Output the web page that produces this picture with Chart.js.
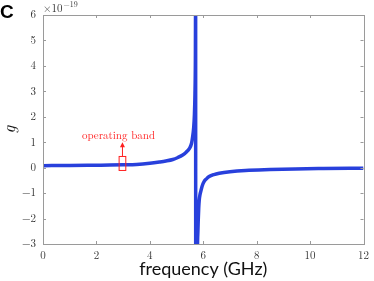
<!DOCTYPE html>
<html><head><meta charset="utf-8">
<script src="https://cdn.jsdelivr.net/npm/chart.js@4"></script>
<style>html,body{margin:0;padding:0;background:#fff}#wrap{width:374px;height:281px;position:relative}</style>
</head><body><div id="wrap"><canvas id="c" width="374" height="281"></canvas></div>
<script>
const freq = [0, 1, 2, 2.5, 3, 3.5, 4, 4.36, 4.6, 4.86, 5.05, 5.23, 5.35, 5.48, 5.56, 5.6, 5.64, 5.67, 5.69, 5.705, 5.715, 5.72,
  5.78, 5.80, 5.83, 5.85, 5.88, 5.91, 5.96, 6.03, 6.12, 6.22, 6.4, 6.6, 7, 7.58, 8.5, 9.44, 10.5, 12];
const gVals = [0.08, 0.085, 0.095, 0.10, 0.11, 0.125, 0.17, 0.22, 0.26, 0.32, 0.4, 0.5, 0.6, 0.75, 0.95, 1.2, 1.55, 2.1, 2.9, 4.2, 7, -20,
  -3.6, -2.5, -1.6, -1.27, -1.05, -0.92, -0.72, -0.55, -0.44, -0.35, -0.27, -0.22, -0.16, -0.11, -0.075, -0.05, -0.035, -0.02];
const xTicks = [0, 2, 4, 6, 8, 10, 12];
const yTicks = [-3, -2, -1, 0, 1, 2, 3, 4, 5, 6];
const bandBox = {x0: 2.85, x1: 3.10, y0: -0.11, y1: 0.44, arrowTop: 1.0};

const serif = '"Latin Modern Roman","Liberation Serif","DejaVu Serif",serif';
const deco = {
  id: 'deco',
  afterDraw(chart) {
    const ctx = chart.ctx, a = chart.chartArea, xs = chart.scales.x, ys = chart.scales.y;
    ctx.save();
    ctx.strokeStyle = '#9a9a9a'; ctx.lineWidth = 1;
    ctx.strokeRect(Math.round(a.left)+0.5, Math.round(a.top)+0.5, Math.round(a.right-a.left), Math.round(a.bottom-a.top));
    ctx.beginPath();
    xTicks.forEach(v => { const px = Math.round(xs.getPixelForValue(v))+0.5;
      ctx.moveTo(px, a.bottom); ctx.lineTo(px, a.bottom-3);
      ctx.moveTo(px, a.top); ctx.lineTo(px, a.top+3); });
    yTicks.forEach(v => { const py = Math.round(ys.getPixelForValue(v))+0.5;
      ctx.moveTo(a.left, py); ctx.lineTo(a.left+3, py);
      ctx.moveTo(a.right, py); ctx.lineTo(a.right-3, py); });
    ctx.stroke();
    // annotation
    const rx0 = xs.getPixelForValue(bandBox.x0), rx1 = xs.getPixelForValue(bandBox.x1);
    const ry0 = ys.getPixelForValue(bandBox.y1), ry1 = ys.getPixelForValue(bandBox.y0);
    ctx.strokeStyle = '#ff2020'; ctx.lineWidth = 1;
    ctx.strokeRect(rx0, ry0, rx1-rx0, ry1-ry0);
    const ax = (rx0+rx1)/2, atop = ys.getPixelForValue(bandBox.arrowTop);
    ctx.beginPath(); ctx.moveTo(ax, ry0); ctx.lineTo(ax, atop+3); ctx.stroke();
    ctx.fillStyle = '#ff2020';
    ctx.beginPath(); ctx.moveTo(ax, atop); ctx.lineTo(ax-2.5, atop+5); ctx.lineTo(ax+2.5, atop+5); ctx.closePath(); ctx.fill();
    ctx.font = '11px ' + serif; ctx.textAlign = 'center'; ctx.textBaseline = 'alphabetic';
    ctx.fillText('operating band', ax-4, atop-3);
    // panel letter
    ctx.fillStyle = '#000'; ctx.font = 'bold 19px "Liberation Sans",Arial,sans-serif'; ctx.textAlign = 'left';
    ctx.fillText('C', 0, 18);
    // exponent
    ctx.fillStyle = '#333'; ctx.font = '11px ' + serif;
    ctx.fillText('\u00d710', a.left, 12);
    const w = ctx.measureText('\u00d710').width;
    ctx.font = '8px ' + serif;
    ctx.fillText('\u221219', a.left + w + 1, 7);
    ctx.restore();
  }
};

new Chart(document.getElementById('c'), {
  type: 'line',
  data: { datasets: [{
    data: freq.map((f, i) => ({x: f, y: gVals[i]})),
    borderColor: '#2840dc', borderWidth: 3.5, pointRadius: 0, cubicInterpolationMode: 'monotone', fill: false, clip: 0
  }]},
  options: {
    responsive: false, animation: false, devicePixelRatio: 1,
    layout: { padding: { top: 15, right: 9, left: 0, bottom: 0 } },
    plugins: { legend: { display: false }, tooltip: { enabled: false } },
    scales: {
      x: { type: 'linear', min: 0, max: 12,
        afterBuildTicks: s => { s.ticks = xTicks.map(v => ({value: v})); },
        afterFit: s => { s.height = 37; },
        grid: { display: false, drawTicks: false },
        border: { display: false },
        ticks: { padding: 5, color: '#333', font: { family: serif, size: 11 } },
        title: { display: true, text: 'frequency (GHz)', color: '#111', padding: { top: 0, bottom: 1 },
          font: { family: 'Lato,"Open Sans",sans-serif', size: 18 } } },
      y: { min: -3, max: 6,
        afterBuildTicks: s => { s.ticks = yTicks.map(v => ({value: v})); },
        afterFit: s => { s.width = 43; },
        grid: { display: false, drawTicks: false },
        border: { display: false },
        ticks: { padding: 7, color: '#333', font: { family: serif, size: 11 },
          callback: v => (v < 0 ? '\u2212' + Math.abs(v) : String(v)) },
        title: { display: true, text: 'g', color: '#111', padding: { top: 0, bottom: 0 },
          font: { family: serif, size: 17, style: 'italic' } } }
    }
  },
  plugins: [deco]
});
</script></body></html>
